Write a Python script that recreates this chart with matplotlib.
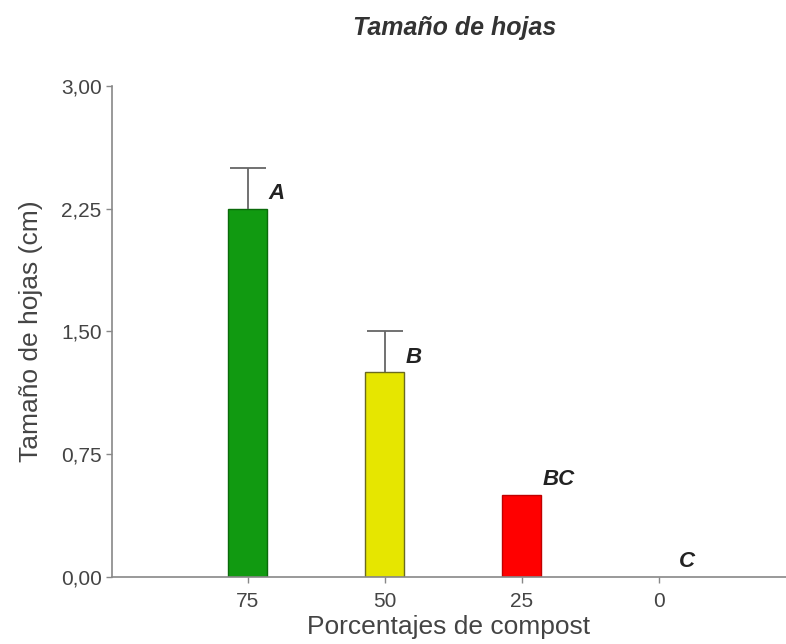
import matplotlib.pyplot as plt
import numpy as np

# data
categories = ["75", "50", "25", "0"]
means = [2.25, 1.25, 0.50, 0.0]
err_upper = [0.25, 0.25, 0.0, 0.0]
letters = ["A", "B", "BC", "C"]
colors = ["#119a11", "#e6e600", "#ff0000", "#ffffff"]
edge_colors = ["#0a6a0a", "#6a6a20", "#c00000", "none"]
y_ticks = [0.0, 0.75, 1.50, 2.25, 3.00]

plt.rcParams["font.family"] = ["Liberation Sans", "DejaVu Sans"]

fig = plt.figure(figsize=(7.86, 6.44), dpi=100)
ax = fig.add_axes([0.1425, 0.104, 0.8575, 0.7625])

x = np.arange(len(categories))
bar_w = 0.28
ax.bar(x, means, width=bar_w, color=colors, edgecolor=edge_colors, linewidth=1.0, zorder=2)

# upper-only error bars (no cap at the bar top)
tops = np.array(means) + np.array(err_upper)
has_err = np.array(err_upper) > 0
ax.vlines(x[has_err], np.array(means)[has_err], tops[has_err],
          color="#666666", linewidth=1.3, zorder=3)
ax.hlines(tops[has_err], x[has_err] - bar_w * 0.47, x[has_err] + bar_w * 0.47,
          color="#666666", linewidth=1.3, zorder=3)

for xi, m, lab in zip(x, means, letters):
    ax.text(xi + bar_w / 2 + 0.01, m + 0.03, lab, fontsize=16, fontweight="bold",
            fontstyle="italic", color="#222222", ha="left", va="bottom")

ax.set_xlim(-0.99, 3.93)
ax.set_ylim(0, 3.0)
ax.set_xticks(x)
ax.set_xticklabels(categories)
ax.set_yticks(y_ticks)
ax.set_yticklabels([f"{v:.2f}".replace(".", ",") for v in y_ticks])

for side in ["top", "right"]:
    ax.spines[side].set_visible(False)
for side in ["left", "bottom"]:
    ax.spines[side].set_color("#888888")
    ax.spines[side].set_linewidth(1.2)
ax.tick_params(axis="both", colors="#888888", length=4, width=1.0,
               labelsize=15, labelcolor="#444444")
ax.tick_params(axis="x", pad=7)

ax.set_xlabel("Porcentajes de compost", fontsize=19, color="#444444", labelpad=3)
ax.set_ylabel("Tamaño de hojas (cm)", fontsize=19, color="#444444", labelpad=13)
fig.text(0.579, 0.957, "Tamaño de hojas", fontsize=18, fontweight="bold",
         fontstyle="italic", color="#333333", ha="center", va="center")

fig.savefig("out.png", dpi=100)
